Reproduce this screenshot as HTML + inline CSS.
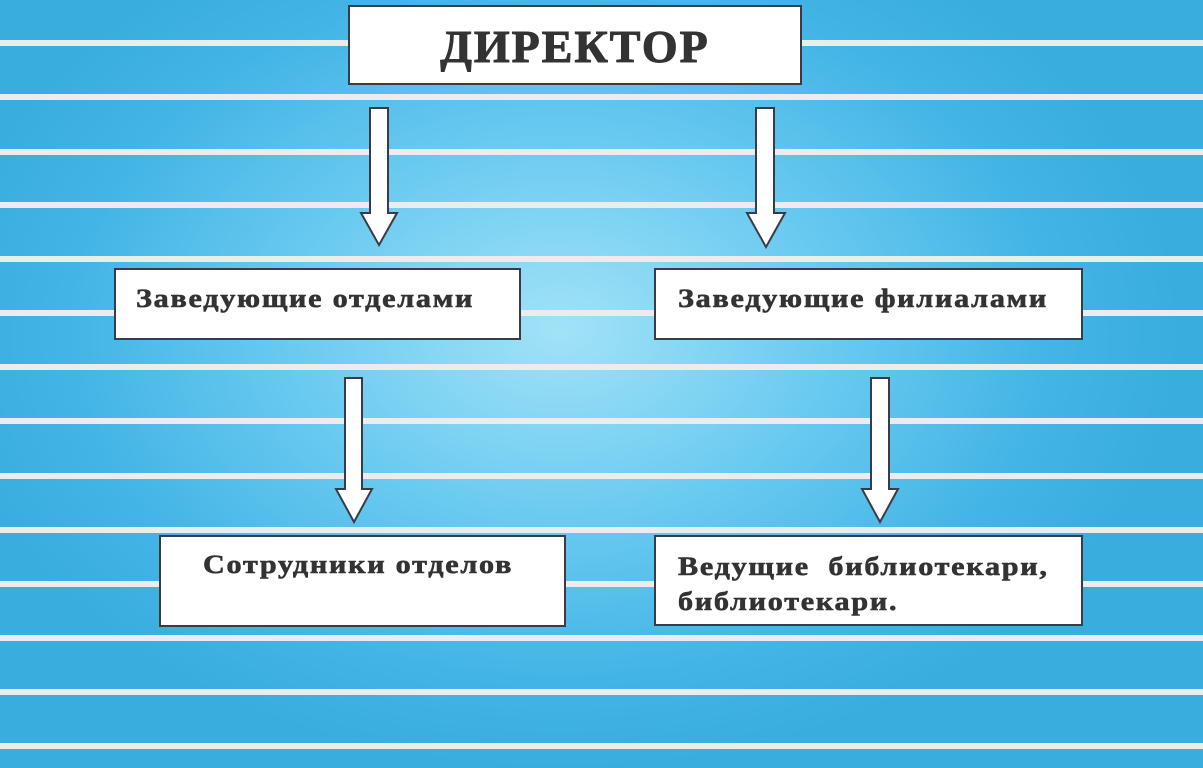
<!DOCTYPE html>
<html><head><meta charset="utf-8"><style>
html,body{margin:0;padding:0}
body{width:1203px;height:768px;position:relative;overflow:hidden;
background:radial-gradient(ellipse 620px 440px at 560px 330px,#a2e2f7 0%,#68c9f0 45%,#42b4e5 80%,#3aaddf 100%);
font-family:"Liberation Serif",serif;}
.s{position:absolute;left:0;width:1203px;height:6px;background:#ececec}
.b{position:absolute;background:#fff;border:2px solid #3a3a48;box-sizing:border-box;color:#333;font-weight:bold;font-size:26px;letter-spacing:1.5px}
.t{display:inline-block;transform:scaleX(1.16);transform-origin:0 0;white-space:nowrap;-webkit-text-stroke:0.6px #333}
svg{position:absolute;left:0;top:0}
</style></head><body>
<div class="s" style="top:40px"></div><div class="s" style="top:94px"></div>
<div class="s" style="top:149px"></div><div class="s" style="top:202px"></div>
<div class="s" style="top:256px"></div><div class="s" style="top:310px"></div>
<div class="s" style="top:364px"></div><div class="s" style="top:418px"></div>
<div class="s" style="top:473px"></div><div class="s" style="top:527px"></div>
<div class="s" style="top:581px"></div><div class="s" style="top:635px"></div>
<div class="s" style="top:689px"></div><div class="s" style="top:743px"></div>
<div class="b" style="left:348px;top:5px;width:454px;height:80px;font-size:46px;text-align:center;line-height:80px;letter-spacing:2px;-webkit-text-stroke:1px #333">ДИРЕКТОР</div>
<div class="b" style="left:114px;top:268px;width:407px;height:72px;padding:14px 0 0 20px"><span class="t">Заведующие отделами</span></div>
<div class="b" style="left:654px;top:268px;width:429px;height:72px;padding:14px 0 0 22px"><span class="t">Заведующие филиалами</span></div>
<div class="b" style="left:159px;top:535px;width:407px;height:92px;padding:13px 0 0 42px"><span class="t">Сотрудники отделов</span></div>
<div class="b" style="left:654px;top:535px;width:429px;height:91px;padding:12px 0 0 22px;line-height:35px"><span class="t">Ведущие&nbsp; библиотекари,<br>библиотекари.</span></div>
<svg width="1203" height="768">
<g fill="#fff" stroke="#3a3a48" stroke-width="2">
<polygon points="370,108 388,108 388,213 397,213 379,245 361,213 370,213"/>
<polygon points="756,108 774,108 774,213 785,213 766,247 747,213 756,213"/>
<polygon points="345,378 362,378 362,489 372,489 354,522 336,489 345,489"/>
<polygon points="871,378 889,378 889,489 898,489 880,522 862,489 871,489"/>
</g></svg>
</body></html>
